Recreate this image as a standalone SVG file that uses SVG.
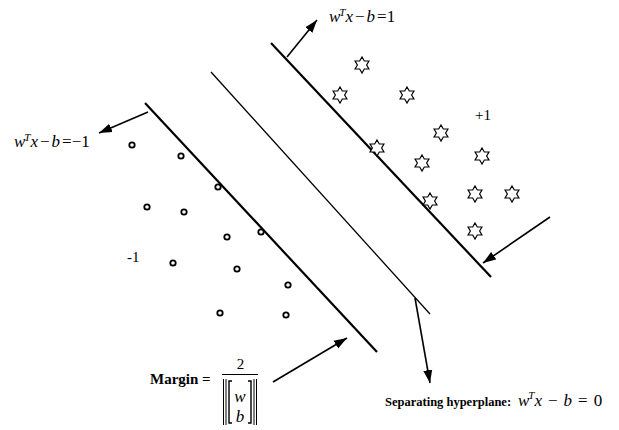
<svg xmlns="http://www.w3.org/2000/svg" width="619" height="430" viewBox="0 0 619 430">
<style>
.ln{stroke:#000;fill:none;stroke-linecap:butt}
.mg{stroke-width:2.2}
.hp{stroke-width:1.3}
.ar{stroke:#000;stroke-width:1.6;fill:none;marker-end:url(#ah)}
.pt{fill:#fff;stroke:#000;stroke-width:1.8}
.st{fill:#fff;stroke:#000;stroke-width:1.2;stroke-linejoin:miter}
.m{font-family:"Liberation Serif","Times New Roman",serif;font-style:italic;font-size:17px;fill:#000}
.r{font-style:normal}
.sup{font-size:11px}
.t{font-family:"Liberation Serif","Times New Roman",serif;font-size:15px;fill:#000}
.b{font-family:"Liberation Serif","Times New Roman",serif;font-weight:bold;fill:#000}
.thin{stroke:#000;stroke-width:1;fill:none}
.br{stroke:#000;stroke-width:1.4;fill:none}
</style>
<defs>
<marker id="ah" markerUnits="userSpaceOnUse" markerWidth="14" markerHeight="10" refX="13" refY="5" orient="auto">
<path d="M0,0.5 L13,5 L0,9.5 Z" fill="#000"/>
</marker>
<path id="star" d="M0,-8 L2.31,-4 L6.93,-4 L4.62,0 L6.93,4 L2.31,4 L0,8 L-2.31,4 L-6.93,4 L-4.62,0 L-6.93,-4 L-2.31,-4 Z"/>
</defs>
<rect width="619" height="430" fill="#fff"/>

<g id="connectors">
<line class="ln mg" x1="145" y1="103" x2="377" y2="352"/>
<line class="ln mg" x1="271" y1="43" x2="491" y2="277"/>
<line class="ln hp" x1="211" y1="72" x2="430" y2="314"/>
<line class="ar" x1="287" y1="57" x2="317" y2="20"/>
<line class="ar" x1="148" y1="112" x2="99" y2="133"/>
<line class="ar" x1="550" y1="217" x2="483" y2="263"/>
<line class="ar" x1="273" y1="382" x2="347" y2="338"/>
<line class="ar" x1="415" y1="298" x2="430" y2="383"/>
</g>

<g id="negatives">
<circle class="pt" cx="132" cy="145" r="2.7"/>
<circle class="pt" cx="181" cy="156" r="2.7"/>
<circle class="pt" cx="218" cy="187" r="2.7"/>
<circle class="pt" cx="147" cy="207" r="2.7"/>
<circle class="pt" cx="184" cy="212" r="2.7"/>
<circle class="pt" cx="261" cy="232" r="2.7"/>
<circle class="pt" cx="227" cy="237" r="2.7"/>
<circle class="pt" cx="173" cy="263" r="2.7"/>
<circle class="pt" cx="237" cy="269" r="2.7"/>
<circle class="pt" cx="288" cy="285" r="2.7"/>
<circle class="pt" cx="220" cy="313" r="2.7"/>
<circle class="pt" cx="286" cy="315" r="2.7"/>
</g>

<g id="positives">
<use href="#star" class="st" x="362" y="65"/>
<use href="#star" class="st" x="340" y="95"/>
<use href="#star" class="st" x="407" y="95"/>
<use href="#star" class="st" x="441" y="133"/>
<use href="#star" class="st" x="377" y="148"/>
<use href="#star" class="st" x="482" y="156"/>
<use href="#star" class="st" x="422" y="163"/>
<use href="#star" class="st" x="475" y="194"/>
<use href="#star" class="st" x="512" y="194"/>
<use href="#star" class="st" x="430" y="201"/>
<use href="#star" class="st" x="475" y="231"/>
</g>

<g id="label-plus">
<text class="m" x="329" y="22">w<tspan class="sup" dx="-1" dy="-6">T</tspan><tspan dy="6">x</tspan><tspan class="r" dx="2">−</tspan><tspan dx="2">b</tspan><tspan class="r" dx="2">=1</tspan></text>
</g>
<g id="label-minus">
<text class="m" x="14" y="147">w<tspan class="sup" dx="-1" dy="-6">T</tspan><tspan dy="6">x</tspan><tspan class="r" dx="2">−</tspan><tspan dx="2">b</tspan><tspan class="r" dx="2">=−1</tspan></text>
</g>
<g id="class-labels">
<text class="t" x="475" y="120">+1</text>
<text class="t" x="127" y="262">-1</text>
</g>

<g id="margin-label">
<text class="b" x="150" y="384" font-size="15">Margin =</text>
<text class="t" x="240.5" y="369" text-anchor="middle">2</text>
<line class="thin" x1="222" y1="374.5" x2="258" y2="374.5"/>
<line class="thin" x1="223.5" y1="379" x2="223.5" y2="425"/>
<line class="thin" x1="226" y1="379" x2="226" y2="425"/>
<line class="thin" x1="254" y1="379" x2="254" y2="425"/>
<line class="thin" x1="256.5" y1="379" x2="256.5" y2="425"/>
<path class="br" d="M232,381 L229,381 L229,423 L232,423"/>
<path class="br" d="M248,381 L251,381 L251,423 L248,423"/>
<text class="m" x="240" y="402" text-anchor="middle" font-size="15">w</text>
<text class="m" x="240" y="422" text-anchor="middle" font-size="15">b</text>
</g>

<g id="hyperplane-label">
<text class="b" x="385" y="406" font-size="12.5">Separating hyperplane:</text>
<text class="m" x="518" y="406" font-size="19">w<tspan class="sup" font-size="12" dx="-1" dy="-7">T</tspan><tspan dy="7">x</tspan><tspan class="r" dx="6">−</tspan><tspan dx="6">b</tspan><tspan class="r" dx="6">=</tspan><tspan class="r" dx="6">0</tspan></text>
</g>
</svg>
